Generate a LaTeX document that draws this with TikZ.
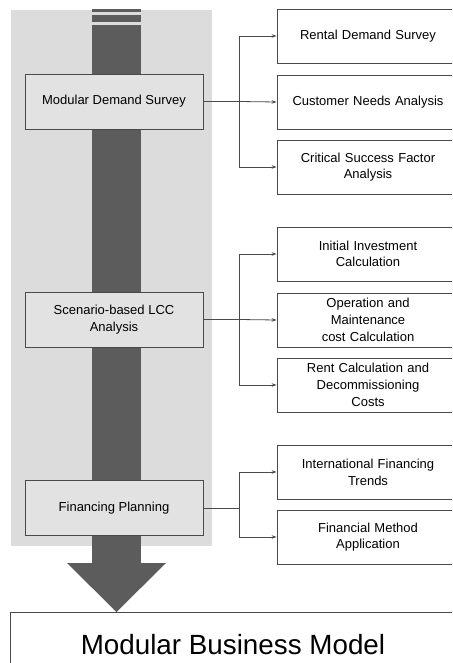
\documentclass[tikz,border=0pt]{standalone}
\usepackage{fontspec}
\setmainfont{Liberation Sans}
\usetikzlibrary{arrows.meta}
\definecolor{bggray}{HTML}{DCDCDC}
\definecolor{bardark}{HTML}{5C5C5C}
\definecolor{boxfill}{HTML}{E2E2E2}
\definecolor{linec}{HTML}{4A4A4A}
\begin{document}
\begin{tikzpicture}[x=1pt,y=-1pt,
  stagebox/.style={draw=linec, line width=0.8pt, fill=boxfill, minimum width=178pt, minimum height=55pt, align=center, font=\fontsize{13}{16.7}\selectfont, inner sep=0pt},
  itembox/.style={draw=linec, line width=0.8pt, fill=white, minimum width=182pt, minimum height=54pt, align=center, font=\fontsize{13}{16.7}\selectfont, inner sep=0pt, text width=176pt},
  conn/.style={draw=linec, line width=0.8pt},
  arr/.style={conn, -{Stealth[length=5pt,width=3.5pt]}}
]
\useasboundingbox (0,0) rectangle (452,663);
\clip (0,0) rectangle (452,663);
\fill[white] (0,0) rectangle (452,663);
% background panel
\fill[bggray] (11,10) rectangle (212,546);
% central bar
\fill[bardark] (92,9.5) rectangle (141,12.5);
\fill[bardark] (92,15) rectangle (141,22);
\fill[bardark] (92,25) rectangle (141,563);
\fill[bardark] (67,563) -- (166,563) -- (116.5,612) -- cycle;
% bottom box
\node[draw=linec, line width=0.8pt, fill=white, minimum width=460pt, minimum height=70pt, anchor=north west, inner sep=0pt] (model) at (10,612) {};
\node[font=\fontsize{27.8}{30}\selectfont, anchor=base, inner sep=0pt] (modeltxt) at (233,654) {Modular Business Model};
% stage boxes
\node[stagebox] (s1) at (114,101.5) {Modular Demand Survey};
\node[stagebox] (s2) at (114,319.5) {Scenario-based LCC\\Analysis};
\node[stagebox] (s3) at (114,508) {Financing Planning};
% item boxes
\node[itembox] (a1) at (368,36) {Rental Demand Survey};
\node[itembox] (a2) at (368,102) {Customer Needs Analysis};
\node[itembox] (a3) at (368,167) {Critical Success Factor\\Analysis};
\node[itembox] (b1) at (368,254) {Initial Investment\\Calculation};
\node[itembox] (b2) at (368,320) {Operation and\\Maintenance\\cost Calculation};
\node[itembox] (b3) at (368,385) {Rent Calculation and\\Decommissioning\\Costs};
\node[itembox] (c1) at (368,472) {International Financing\\Trends};
\node[itembox] (c2) at (368,537) {Financial Method\\Application};
% connectors
\coordinate (j1) at (239,101.5);
\coordinate (j2) at (239,319.5);
\coordinate (j3) at (239,508);
\draw[conn] (s1.east) -- (j1);
\draw[arr] (j1) |- (a1.west);
\draw[arr] (j1) -- (a2.west);
\draw[arr] (j1) |- (a3.west);
\draw[conn] (s2.east) -- (j2);
\draw[arr] (j2) |- (b1.west);
\draw[arr] (j2) -- (b2.west);
\draw[arr] (j2) |- (b3.west);
\draw[conn] (s3.east) -- (j3);
\draw[arr] (j3) |- (c1.west);
\draw[arr] (j3) |- (c2.west);
\end{tikzpicture}
\end{document}
